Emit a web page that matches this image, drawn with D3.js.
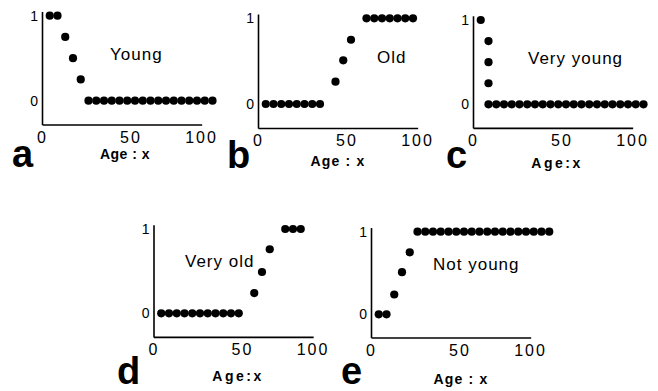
<!DOCTYPE html>
<html><head><meta charset="utf-8">
<script src="https://cdn.jsdelivr.net/npm/d3@7/dist/d3.min.js"></script>
<style>html,body{margin:0;padding:0;background:#fff;} svg{display:block}</style>
</head><body><svg id="chart" width="658" height="391"></svg>
<script>
// ---- data ----
const panelLetters = ["a", "b", "c", "d", "e"];
const setNames = ["Young", "Old", "Very young", "Very old", "Not young"];
const axisTitles = ["Age : x", "Age : x", "Age:x", "Age:x", "Age : x"];
const xTickValues = [0, 50, 100];
const xTickLabels = ["0", "50", "100"];
const yTickValues = [0, 1];
const yTickLabels = ["0", "1"];

const youngAge = [5,10,15,20,25,30,35,40,45,50,55,60,65,70,75,80,85,90,95,100,105,110];
const youngMu  = [1,1,0.75,0.5,0.25,0,0,0,0,0,0,0,0,0,0,0,0,0,0,0,0,0];

const oldAge = [5,10,15,20,25,30,35,40,50,55,60,70,75,80,85,90,95,100];
const oldMu  = [0,0,0,0,0,0,0,0,0.26,0.51,0.75,1,1,1,1,1,1,1];

const veryYoungAge = [5,10,10,10,10,15,20,25,30,35,40,45,50,55,60,65,70,75,80,85,90,95,100,105,110];
const veryYoungMu  = [1,0.75,0.5,0.25,0,0,0,0,0,0,0,0,0,0,0,0,0,0,0,0,0,0,0,0,0];

const veryOldAge = [5,10,15,20,25,30,35,40,45,50,55,65,70,75,85,90,95];
const veryOldMu  = [0,0,0,0,0,0,0,0,0,0,0,0.24,0.49,0.76,1,1,1];

const notYoungAge = [5,10,15,20,25,30,35,40,45,50,55,60,65,70,75,80,85,90,95,100,105,110,115];
const notYoungMu  = [0,0,0.24,0.51,0.75,1,1,1,1,1,1,1,1,1,1,1,1,1,1,1,1,1,1];

const seriesAges = [youngAge, oldAge, veryYoungAge, veryOldAge, notYoungAge];
const seriesMu = [youngMu, oldMu, veryYoungMu, veryOldMu, notYoungMu];

// ---- layout (pixels) ----
const layout = [
  {ox: 42,    y0: 100.7, unit: 85,   titleX: 110, titleY: 60,  axX: 125, axY: 159, axLs: 0.5, lx: 12,  ly: 167},
  {ox: 258,   y0: 104,   unit: 85.7, titleX: 377, titleY: 63,  axX: 338, axY: 166, axLs: 1.2, lx: 227, ly: 168},
  {ox: 473,   y0: 104.3, unit: 84.3, titleX: 528, titleY: 64,  axX: 557, axY: 168, axLs: 2.5, lx: 446, ly: 168},
  {ox: 153.5, y0: 313.3, unit: 84.3, titleX: 185, titleY: 267, axX: 238, axY: 381, axLs: 2.5, lx: 117, ly: 384},
  {ox: 371,   y0: 314.3, unit: 82.6, titleX: 433, titleY: 270, axX: 461, axY: 384, axLs: 1.2, lx: 341, ly: 384}
];
const pxPerYear = 1.55;
const xMax = 103;
const yMin = -0.28, yMax = 1.05;
const FONT = "'Liberation Sans', Arial, Helvetica, sans-serif";

const svg = d3.select("#chart");
svg.append("rect").attr("width", 658).attr("height", 391).attr("fill", "#fff");

panelLetters.forEach((letter, i) => {
  const L = layout[i];
  const x = d3.scaleLinear().domain([0, xMax]).range([L.ox, L.ox + pxPerYear * xMax]);
  const y = d3.scaleLinear().domain([yMin, yMax]).range([L.y0 - yMin * L.unit, L.y0 - yMax * L.unit]);
  const g = svg.append("g");

  const xa = g.append("g")
    .attr("transform", `translate(0,${y(yMin)})`)
    .call(d3.axisBottom(x).tickValues(xTickValues)
      .tickFormat((d, k) => xTickLabels[k]).tickSize(0).tickSizeOuter(0).tickPadding(7));
  xa.selectAll("text").attr("font-family", FONT).attr("font-size", 16)
    .attr("letter-spacing", 2).attr("fill", "#000")
    .attr("dx", d => d === 50 ? 11 : (d === 100 ? 4 : 0));

  const ya = g.append("g")
    .attr("transform", `translate(${L.ox},0)`)
    .call(d3.axisLeft(y).tickValues(yTickValues)
      .tickFormat((d, k) => yTickLabels[k]).tickSize(0).tickSizeOuter(0).tickPadding(4));
  ya.selectAll("text").attr("font-family", FONT).attr("font-size", 14).attr("fill", "#000");

  g.selectAll(".domain").attr("stroke", "#000").attr("stroke-width", 1.6);

  const ages = seriesAges[i], mu = seriesMu[i];
  g.selectAll("circle").data(ages.map((a, k) => ({a, m: mu[k]})))
    .enter().append("circle")
    .attr("cx", d => x(d.a)).attr("cy", d => y(d.m)).attr("r", 4.1).attr("fill", "#000");

  g.append("text").attr("x", L.titleX).attr("y", L.titleY)
    .attr("font-family", FONT).attr("font-size", 17).attr("letter-spacing", 1)
    .attr("fill", "#000").text(setNames[i]);

  g.append("text").attr("x", L.axX).attr("y", L.axY).attr("text-anchor", "middle")
    .attr("font-family", FONT).attr("font-size", 14).attr("font-weight", "bold")
    .attr("letter-spacing", L.axLs).attr("fill", "#000").text(axisTitles[i]);

  g.append("text").attr("x", L.lx).attr("y", L.ly)
    .attr("font-family", FONT).attr("font-size", 38).attr("font-weight", "bold")
    .attr("fill", "#000").text(letter);
});
</script>
</body></html>
